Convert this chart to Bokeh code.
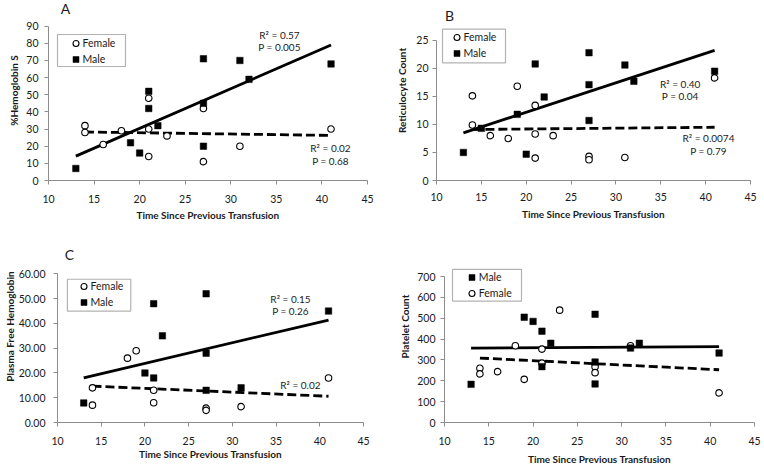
from bokeh.plotting import figure
from bokeh.layouts import row, column
from bokeh.models import (Legend, LegendItem, Label, Range1d, FixedTicker,
                          CustomJSTickFormatter, BoxAnnotation)
from bokeh.embed import file_html
from bokeh.resources import INLINE

FONT = "Lato"

# ---------------- data ----------------
x_ticks = [10, 15, 20, 25, 30, 35, 40, 45]

# Panel A: %Hemoglobin S
a_female_x = [14, 14, 16, 18, 21, 21, 21, 23, 27, 27, 31, 41]
a_female_y = [32, 28, 21, 29, 48, 30, 14, 26, 42, 11, 20, 30]
a_male_x = [13, 19, 20, 21, 21, 22, 27, 27, 27, 31, 32, 41]
a_male_y = [7, 22, 16, 52, 42, 32, 71, 45, 20, 70, 59, 68]
a_male_fit_x = [13, 41]
a_male_fit_y = [14.2, 79.0]
a_female_fit_x = [14, 41]
a_female_fit_y = [28.3, 26.3]
a_y_ticks = [0, 10, 20, 30, 40, 50, 60, 70, 80, 90]

# Panel B: Reticulocyte Count
b_female_x = [14, 14, 16, 18, 19, 21, 21, 21, 23, 27, 27, 31, 41]
b_female_y = [15.1, 9.9, 8.0, 7.5, 16.8, 13.4, 8.3, 4.0, 8.0, 4.3, 3.7, 4.1, 18.3]
b_male_x = [13, 15, 19, 20, 21, 22, 27, 27, 27, 31, 32, 41]
b_male_y = [5.0, 9.3, 11.8, 4.7, 20.8, 14.9, 22.8, 17.1, 10.7, 20.6, 17.7, 19.5]
b_male_fit_x = [13, 41]
b_male_fit_y = [8.5, 23.2]
b_female_fit_x = [14, 41]
b_female_fit_y = [9.1, 9.5]
b_y_ticks = [0, 5, 10, 15, 20, 25]

# Panel C: Plasma Free Hemoglobin
c_female_x = [14, 14, 18, 19, 21, 21, 27, 27, 31, 41]
c_female_y = [14.0, 7.0, 26.0, 29.0, 13.0, 8.0, 5.8, 4.9, 6.4, 18.0]
c_male_x = [13, 20, 21, 21, 22, 27, 27, 27, 31, 41]
c_male_y = [7.9, 20.0, 48.0, 18.0, 35.0, 52.0, 28.0, 13.0, 14.0, 45.0]
c_male_fit_x = [13, 41]
c_male_fit_y = [18.0, 41.4]
c_female_fit_x = [14, 41]
c_female_fit_y = [14.7, 10.6]
c_y_ticks = [0, 10, 20, 30, 40, 50, 60]

# Panel D: Platelet Count
d_male_x = [13, 19, 20, 21, 21, 22, 27, 27, 27, 31, 32, 41]
d_male_y = [183, 505, 485, 438, 268, 380, 519, 290, 185, 357, 380, 333]
d_female_x = [14, 14, 16, 18, 19, 21, 21, 23, 27, 27, 31, 41]
d_female_y = [260, 233, 244, 368, 207, 352, 285, 539, 268, 239, 368, 142]
d_male_fit_x = [13, 41]
d_male_fit_y = [357, 364]
d_female_fit_x = [14, 41]
d_female_fit_y = [309, 253]
d_y_ticks = [0, 100, 200, 300, 400, 500, 600, 700]

x_label = "Time Since Previous Transfusion"

AXIS_COLOR = "#8c8c8c"
TEXT_COLOR = "#1a1a1a"


class Panel:
    """Figure whose frame is placed at known page pixel positions."""

    def __init__(self, ox, oy, w, h, left, right, bottom, top_tick_off,
                 yticks, ylabel, y_std, y_lstd, x_std, x_lstd, decimals=False):
        self.fl = ox + left               # frame left (page px)
        self.fr = ox + w - right          # frame right
        self.ft = oy                      # frame top
        self.fb = oy + h - bottom         # frame bottom
        fh = self.fb - self.ft
        ymax = yticks[-1]
        self.ytop = ymax * fh / (fh - top_tick_off)
        self.xs = (self.fr - self.fl) / 35.0
        self.ys = fh / self.ytop
        p = figure(width=w, height=h, output_backend="svg", toolbar_location=None,
                   title=None, x_range=Range1d(10, 45),
                   y_range=Range1d(0, self.ytop),
                   min_border_left=left, min_border_right=right,
                   min_border_top=0, min_border_bottom=bottom)
        p.outline_line_color = None
        p.grid.visible = False
        p.xaxis.ticker = FixedTicker(ticks=x_ticks)
        p.yaxis.ticker = FixedTicker(ticks=yticks)
        p.yaxis.bounds = (0, ymax)
        if decimals:
            p.yaxis.formatter = CustomJSTickFormatter(code="return tick.toFixed(2);")
        for ax in (p.xaxis[0], p.yaxis[0]):
            ax.axis_line_color = AXIS_COLOR
            ax.axis_line_width = 1
            ax.major_tick_line_color = AXIS_COLOR
            ax.major_tick_in = 0
            ax.major_tick_out = 4
            ax.minor_tick_line_color = None
            ax.major_label_text_font = FONT
            ax.major_label_text_font_size = "10.5px"
            ax.major_label_text_color = TEXT_COLOR
            ax.axis_label_text_font = FONT
            ax.axis_label_text_font_size = "10px"
            ax.axis_label_text_font_style = "bold"
            ax.axis_label_text_color = TEXT_COLOR
        p.xaxis.axis_label = x_label
        p.yaxis.axis_label = ylabel
        p.yaxis.major_label_standoff = y_std
        p.yaxis.axis_label_standoff = y_lstd
        p.xaxis.major_label_standoff = x_std
        p.xaxis.axis_label_standoff = x_lstd
        self.p = p

    def dx(self, px):
        return 10 + (px - self.fl) / self.xs

    def dy(self, py):
        return (self.fb - py) / self.ys

    def series(self, fx, fy, mx, my, ffx, ffy, mfx, mfy):
        p = self.p
        p.line(mfx, mfy, line_color="black", line_width=2.8)
        p.line(ffx, ffy, line_color="black", line_width=2.8, line_dash="9 4")
        rf = p.scatter(fx, fy, marker="circle", size=6.5, fill_color="white",
                       line_color="black", line_width=1.1)
        rm = p.scatter(mx, my, marker="square", size=6.5, fill_color="black",
                       line_color="black", line_width=0.5)
        return rf, rm

    def legend(self, items, box, marker_x, row1_y):
        # box: (left, top, right, bottom) in page px
        l, t, r, b = box
        self.p.add_layout(BoxAnnotation(
            left=self.dx(l), right=self.dx(r), top=self.dy(t), bottom=self.dy(b),
            fill_color="white", fill_alpha=1.0, line_color="black",
            line_width=1.2))
        gw = 15
        leg_left = marker_x - gw / 2
        leg_top = row1_y - 8
        leg = Legend(items=[LegendItem(label=lab, renderers=[rr]) for lab, rr in items],
                     location=(leg_left - self.fl, self.fb - leg_top - 32),
                     padding=0, spacing=0, margin=0,
                     glyph_width=gw, glyph_height=16, label_height=16,
                     label_standoff=0, label_width=30,
                     label_text_font=FONT, label_text_font_size="10.5px",
                     label_text_color=TEXT_COLOR,
                     border_line_color=None, background_fill_alpha=0.0)
        self.p.add_layout(leg)

    def text(self, px, py, t, size="10px"):
        self.p.add_layout(Label(x=self.dx(px), y=self.dy(py), text=t,
                                text_font=FONT, text_font_size=size,
                                text_color=TEXT_COLOR, text_align="center",
                                text_baseline="middle"))


# ---------------- panel A ----------------
A = Panel(0, 0, 382, 230, 48, 15, 50, 25.7, a_y_ticks, "%Hemoglobin S", 6, 3, 10, 3)
rf, rm = A.series(a_female_x, a_female_y, a_male_x, a_male_y,
                  a_female_fit_x, a_female_fit_y, a_male_fit_x, a_male_fit_y)
A.legend([("Female", rf), ("Male", rm)], (57, 34, 125, 66), 75, 42.5)
A.text(279, 34, "R² = 0.57")
A.text(279, 46, "P = 0.005")
A.text(330, 147.7, "R² = 0.02")
A.text(330, 160, "P = 0.68")
A.text(65, 8, "A", size="14px")

# ---------------- panel B ----------------
B = Panel(382, 0, 382, 230, 54, 14, 48, 40.3, b_y_ticks, "Reticulocyte Count", 4, 5, 8, 4)
rf, rm = B.series(b_female_x, b_female_y, b_male_x, b_male_y,
                  b_female_fit_x, b_female_fit_y, b_male_fit_x, b_male_fit_y)
B.legend([("Female", rf), ("Male", rm)], (442, 29, 505, 63), 456, 38.5)
B.text(679.7, 84.3, "R² = 0.40")
B.text(679.7, 96.7, "P = 0.04")
B.text(708, 139.3, "R² = 0.0074")
B.text(708, 152, "P = 0.79")
B.text(449, 15, "B", size="14px")

# ---------------- panel C ----------------
C = Panel(0, 230, 382, 237, 54, 19, 44, 43.7, c_y_ticks, "Plasma Free Hemoglobin",
          8, 0, 10, 0, decimals=True)
rf, rm = C.series(c_female_x, c_female_y, c_male_x, c_male_y,
                  c_female_fit_x, c_female_fit_y, c_male_fit_x, c_male_fit_y)
C.legend([("Female", rf), ("Male", rm)], (64, 279, 128, 311), 80, 287.3)
C.text(289.3, 299.3, "R² = 0.15")
C.text(289.3, 311.3, "P = 0.26")
C.text(299.3, 385.3, "R² = 0.02")
C.text(66, 254, "C", size="14px")

# ---------------- panel D ----------------
D = Panel(382, 230, 382, 237, 62, 10, 44, 46.3, d_y_ticks, "Platelet Count", 5, 3, 10, 5)
rf, rm = D.series(d_female_x, d_female_y, d_male_x, d_male_y,
                  d_female_fit_x, d_female_fit_y, d_male_fit_x, d_male_fit_y)
D.legend([("Male", rm), ("Female", rf)], (452, 269, 521, 301), 471.3, 277.7)

layout = column(row(A.p, B.p), row(C.p, D.p))

open("out.html", "w").write(file_html(layout, INLINE))
